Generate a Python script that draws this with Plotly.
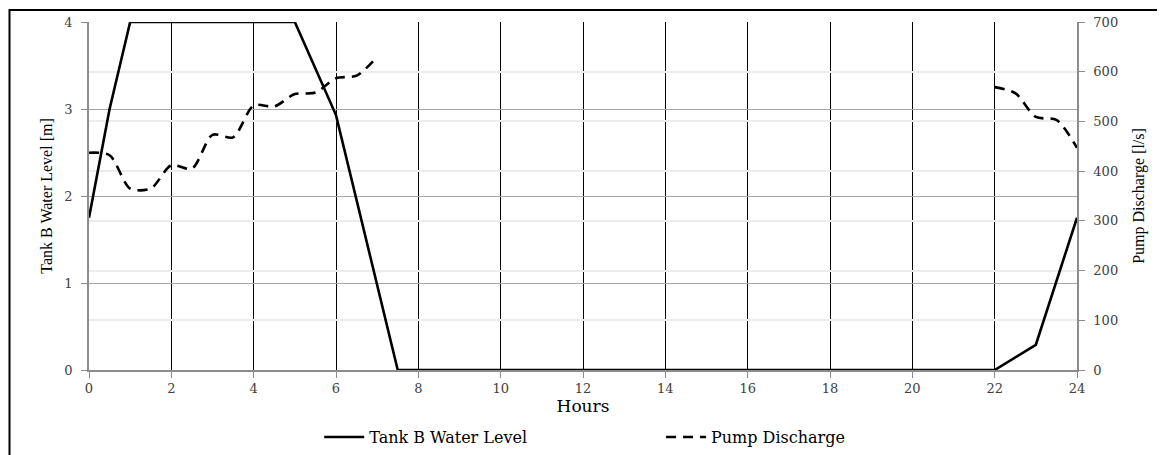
import plotly.graph_objects as go

hours_level = [0, 0.5, 1, 5, 6, 6.5, 7, 7.5, 22, 22.5, 23, 24]
tank_level = [1.75, 3.0, 4.0, 4.0, 2.93, 1.95, 0.97, 0.0, 0.0, 0.15, 0.29, 1.75]

hours_pump_a = [0, 0.5, 1, 1.5, 2, 2.5, 3, 3.5, 4, 4.5, 5, 5.5, 6, 6.5, 7]
pump_a = [437, 432, 365, 365, 412, 405, 473, 468, 532, 530, 555, 558, 587, 592, 630]
hours_pump_b = [22, 22.5, 23, 23.5, 24]
pump_b = [569, 557, 509, 503, 447]

x_ticks = list(range(0, 25, 2))

SERIF = "Liberation Serif"
WIDE = "DejaVu Serif"

fig = go.Figure()
fig.add_trace(go.Scatter(
    x=hours_level, y=tank_level, mode="lines", name="Tank B Water Level",
    line=dict(color="black", width=2.6), yaxis="y", legend="legend"))
fig.add_trace(go.Scatter(
    x=hours_pump_a + [None] + hours_pump_b, y=pump_a + [None] + pump_b,
    mode="lines", name="Pump Discharge", connectgaps=False,
    line=dict(color="black", width=2.6, dash="10px,7px", shape="spline", smoothing=0.8),
    yaxis="y2", legend="legend2"))

leg_common = dict(orientation="h", xanchor="left", yref="container", y=0.057, yanchor="middle",
                  font=dict(family=WIDE, size=16, color="black"), itemwidth=40,
                  bgcolor="rgba(0,0,0,0)", borderwidth=0)

tick_font = dict(family=WIDE, size=13, color="#404040")

fig.update_layout(
    width=1165, height=455,
    margin=dict(l=81, r=96, t=14, b=93, autoexpand=False),
    paper_bgcolor="white", plot_bgcolor="white",
    font=dict(family=SERIF, color="black"),
    showlegend=True,
    legend=dict(x=0.233, **leg_common),
    legend2=dict(x=0.579, **leg_common),
    xaxis=dict(range=[0, 24], tickvals=x_ticks, showgrid=True, gridcolor="black", gridwidth=1,
               zeroline=False, showline=True, linecolor="#8c8c8c", linewidth=1.5,
               ticks="outside", ticklen=6, tickcolor="#8c8c8c", automargin=False,
               tickfont=tick_font,
               title=dict(text="Hours", font=dict(family=WIDE, size=17, color="black"), standoff=4)),
    yaxis=dict(range=[0, 4], dtick=1, showgrid=True, gridcolor="#a6a6a6", gridwidth=1,
               zeroline=False, showline=True, linecolor="#8c8c8c", linewidth=1.5,
               ticks="outside", ticklen=6, tickcolor="#8c8c8c", automargin=False,
               ticklabelstandoff=6, tickfont=tick_font,
               title=dict(text="Tank B Water Level [m]", font=dict(family=SERIF, size=16, color="black"),
                          standoff=8)),
    yaxis2=dict(range=[0, 700], dtick=100, overlaying="y", side="right", showgrid=True,
                gridcolor="#ececec", gridwidth=1.5,
                zeroline=False, showline=True, linecolor="#8c8c8c", linewidth=1.5,
                ticks="outside", ticklen=6, tickcolor="#8c8c8c", automargin=False,
                ticklabelstandoff=6, tickfont=tick_font,
                title=dict(text="Pump Discharge [l/s]", font=dict(family=SERIF, size=16, color="black"),
                           standoff=16)),
    shapes=[dict(type="rect", xref="paper", yref="paper",
                 x0=-79.5 / 988, x1=1.2, y0=-0.5, y1=360 / 348,
                 line=dict(color="black", width=2), fillcolor="rgba(0,0,0,0)", layer="below")],
)

fig.write_html("out.html")
